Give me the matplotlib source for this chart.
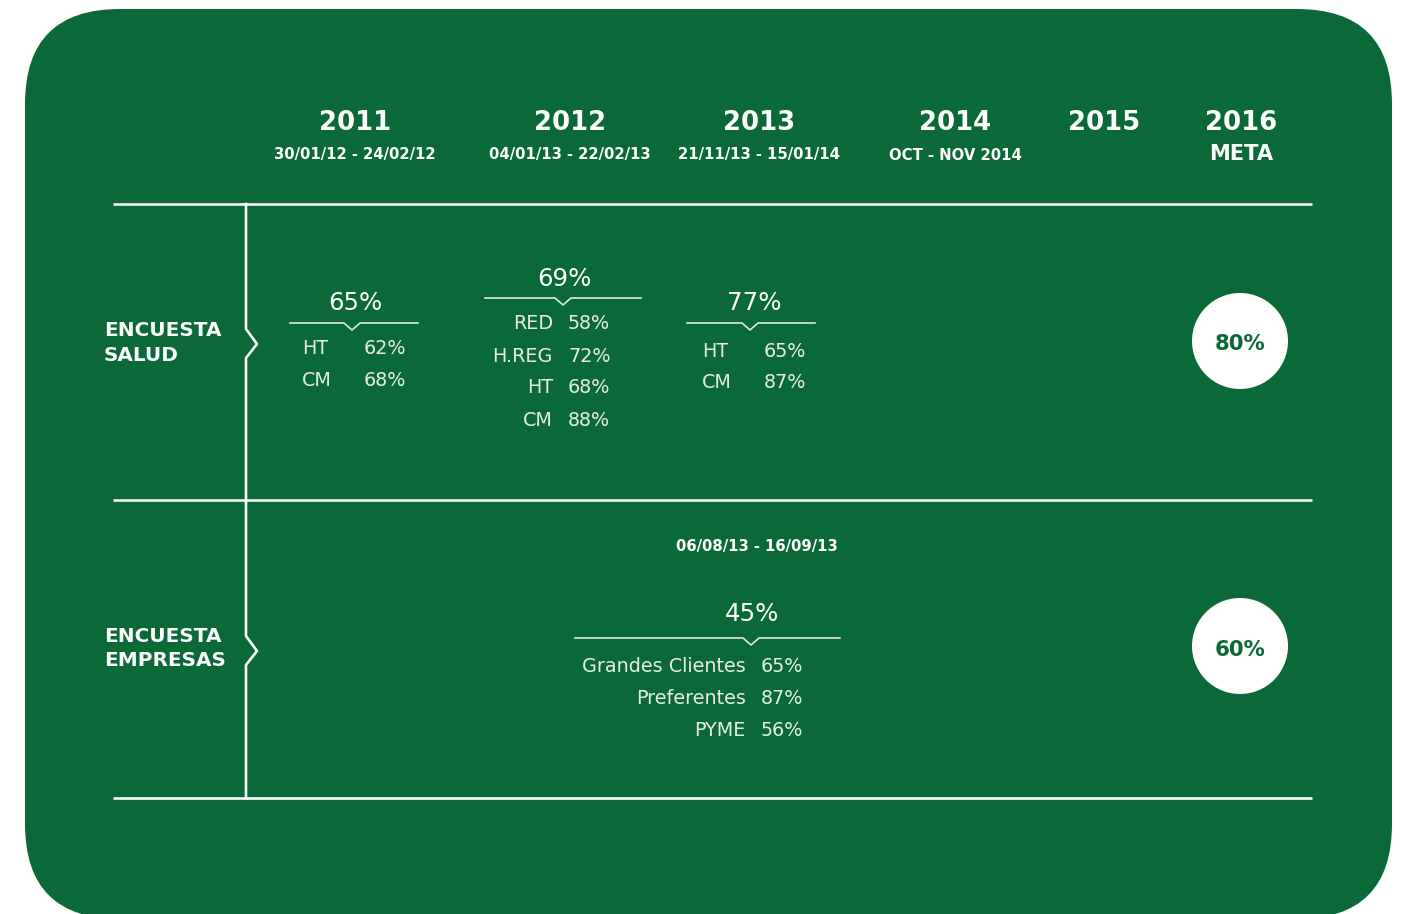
import matplotlib
matplotlib.use("Agg")
import matplotlib.pyplot as plt
from matplotlib.patches import FancyBboxPatch, Circle

# ---------------- data ----------------
years = ["2011", "2012", "2013", "2014", "2015", "2016"]
periods = ["30/01/12 - 24/02/12", "04/01/13 - 22/02/13", "21/11/13 - 15/01/14",
           "OCT - NOV 2014", "", "META"]
row_labels = ["ENCUESTA\nSALUD", "ENCUESTA\nEMPRESAS"]

salud_totals = [65, 69, 77]
salud_2011_labels = ["HT", "CM"]
salud_2011_values = [62, 68]
salud_2012_labels = ["RED", "H.REG", "HT", "CM"]
salud_2012_values = [58, 72, 68, 88]
salud_2013_labels = ["HT", "CM"]
salud_2013_values = [65, 87]

empresas_period = "06/08/13 - 16/09/13"
empresas_total = 45
empresas_labels = ["Grandes Clientes", "Preferentes", "PYME"]
empresas_values = [65, 87, 56]

targets = [80, 60]

# ---------------- style ----------------
GREEN = "#0b6937"
WHITE = "#ffffff"
SOFT = "#e4eee7"
FONT = "DejaVu Sans"
PX = 72 / 100  # pixels -> points at dpi 100

fig = plt.figure(figsize=(14.02, 9.14), dpi=100)
fig.patch.set_facecolor("white")
ax = fig.add_axes([0, 0, 1, 1])
ax.set_xlim(0, 1402)
ax.set_ylim(914, 0)
ax.axis("off")

# background panel
ax.add_patch(FancyBboxPatch((25, 9), 1367, 910,
                            boxstyle="round,pad=0,rounding_size=95",
                            fc=GREEN, ec="none", zorder=0))

LW = 2.6 * PX

# header
col_x = [355, 570, 759, 955, 1104, 1241]
for x, yr, per in zip(col_x, years, periods):
    ax.text(x, 130, yr, ha="center", va="baseline", color=WHITE,
            fontsize=26 * PX, fontweight="bold", family=FONT)
    if per == "META":
        ax.text(x, 160, per, ha="center", va="baseline", color=WHITE,
                fontsize=21 * PX, fontweight="bold", family=FONT)
    elif per:
        ax.text(x, 159.5, per, ha="center", va="baseline", color=WHITE,
                fontsize=14.9 * PX, fontweight="bold", family=FONT)

# grid lines
for y in (204, 500, 798):
    ax.plot([113, 1312], [y, y], color=WHITE, lw=LW, solid_capstyle="butt", zorder=2)
vx = [246, 246, 257, 246, 246, 257, 246, 246]
vy = [204, 329, 344, 358, 636, 651, 665, 798]
ax.plot(vx, vy, color=WHITE, lw=LW, solid_joinstyle="round", zorder=2)

# row labels
for (y1, y2), lab in zip([(336, 361), (642, 666)], row_labels):
    l1, l2 = lab.split("\n")
    ax.text(104, y1, l1, ha="left", va="baseline", color=WHITE,
            fontsize=20 * PX, fontweight="bold", family=FONT)
    ax.text(104, y2, l2, ha="left", va="baseline", color=WHITE,
            fontsize=20 * PX, fontweight="bold", family=FONT)


def total_block(cx, base, total, x0, x1, ly, nx):
    ax.text(cx, base, f"{total}%", ha="center", va="baseline", color=WHITE,
            fontsize=24.5 * PX, family=FONT)
    ax.plot([x0, nx - 8, nx, nx + 8, x1], [ly, ly, ly + 7, ly, ly],
            color=SOFT, lw=1.6 * PX, zorder=2)


ITEM = 19.2 * PX

# 2011
total_block(355, 310, salud_totals[0], 290, 418, 323, 352)
for lab, val, y in zip(salud_2011_labels, salud_2011_values, [354, 386]):
    ax.text(302, y, lab, ha="left", va="baseline", color=SOFT, fontsize=ITEM, family=FONT)
    ax.text(364, y, f"{val}%", ha="left", va="baseline", color=SOFT, fontsize=ITEM, family=FONT)

# 2012
total_block(564, 286, salud_totals[1], 485, 641, 298, 563)
for lab, val, y in zip(salud_2012_labels, salud_2012_values, [329, 362, 393, 426]):
    ax.text(553, y, lab, ha="right", va="baseline", color=SOFT, fontsize=ITEM, family=FONT)
    ax.text(568, y, f"{val}%", ha="left", va="baseline", color=SOFT, fontsize=ITEM, family=FONT)

# 2013
total_block(754, 310, salud_totals[2], 687, 815, 323, 750)
for lab, val, y in zip(salud_2013_labels, salud_2013_values, [357, 388]):
    ax.text(702, y, lab, ha="left", va="baseline", color=SOFT, fontsize=ITEM, family=FONT)
    ax.text(764, y, f"{val}%", ha="left", va="baseline", color=SOFT, fontsize=ITEM, family=FONT)

# empresas
ax.text(757, 551, empresas_period, ha="center", va="baseline", color=WHITE,
        fontsize=14.9 * PX, fontweight="bold", family=FONT)
total_block(752, 621, empresas_total, 575, 840, 638, 751)
for lab, val, y in zip(empresas_labels, empresas_values, [672, 704, 736]):
    ax.text(746, y, lab, ha="right", va="baseline", color=SOFT, fontsize=ITEM, family=FONT)
    ax.text(761, y, f"{val}%", ha="left", va="baseline", color=SOFT, fontsize=ITEM, family=FONT)

# targets
for (cy, base), t in zip([(341, 350), (646, 656)], targets):
    ax.add_patch(Circle((1240, cy), 48, fc=WHITE, ec="none", zorder=3))
    ax.text(1240, base, f"{t}%", ha="center", va="baseline", color=GREEN,
            fontsize=21.3 * PX, fontweight="bold", family=FONT, zorder=4)

fig.savefig("out.png", dpi=100, facecolor=fig.get_facecolor())
